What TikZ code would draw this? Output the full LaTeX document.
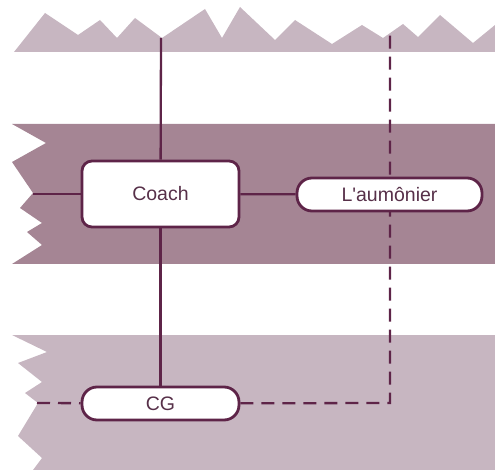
\documentclass[tikz,border=0pt]{standalone}
\usepackage{fontspec}
\setmainfont{Liberation Sans}
\newfontfamily\plainfont{Liberation Sans}[Ligatures=ResetAll]
\usetikzlibrary{backgrounds}
\definecolor{bandlight}{HTML}{C7B6C1}
\definecolor{banddark}{HTML}{A58594}
\definecolor{plum}{HTML}{5E2448}
\definecolor{txt}{HTML}{573049}
\tikzset{
  box/.style={draw=plum, line width=2.8pt, fill=white, rounded corners=10pt, inner sep=0pt, text=txt, font=\plainfont\fontsize{19.5}{21}\selectfont},
  pill/.style={box, rounded corners=15pt},
  link/.style={draw=plum, line width=2.3pt},
  dlink/.style={link, dash pattern=on 13pt off 8pt},
}
\begin{document}
\begin{tikzpicture}[x=1pt,y=-1pt]
\useasboundingbox (0,0) rectangle (495,470);
\node[box, minimum width=157pt, minimum height=66pt] (coach) at (160.5,194) {Coach};
\node[pill, minimum width=185pt, minimum height=33pt] (aum) at (389.5,194.5) {L'aumônier};
\node[pill, minimum width=157pt, minimum height=33pt] (cg) at (160.5,403.5) {CG};
\coordinate (top1) at (161,38);
\coordinate (top2) at (390,33);
\coordinate (left1) at (33,194);
\coordinate (left2) at (37,403);
\coordinate (corner) at (390,403);
\begin{pgfonlayer}{background}
% top band
\fill[bandlight] (14,52) -- (45,13) -- (78,35) -- (100,20) -- (117,38) -- (135,18) -- (162,38) -- (205,9) -- (222,38) -- (240,7) -- (275,40) -- (295,20) -- (332,44) -- (362,25) -- (383,38) -- (403,24) -- (418,37) -- (440,15) -- (473,43) -- (495,25) -- (495,52) -- cycle;
% middle band
\fill[banddark] (12,124) -- (495,124) -- (495,264) -- (12,264) -- (42,245) -- (27,232) -- (42,223) -- (20,208) -- (33,193) -- (12,162) -- (46,143) -- cycle;
% bottom band
\fill[bandlight] (12,335) -- (495,335) -- (495,470) -- (33,470) -- (42,458) -- (18,436) -- (38,403) -- (25,393) -- (42,382) -- (18,363) -- (47,352) -- cycle;
% connectors
\draw[link] (top1) -- (coach);
\draw[link] (coach) -- (cg);
\draw[link] (left1) -- (coach);
\draw[link] (coach) -- (aum);
\draw[dlink] (left2) -- (cg);
\draw[dlink] (cg) -- (corner) -- (top2);
\end{pgfonlayer}
\end{tikzpicture}
\end{document}
